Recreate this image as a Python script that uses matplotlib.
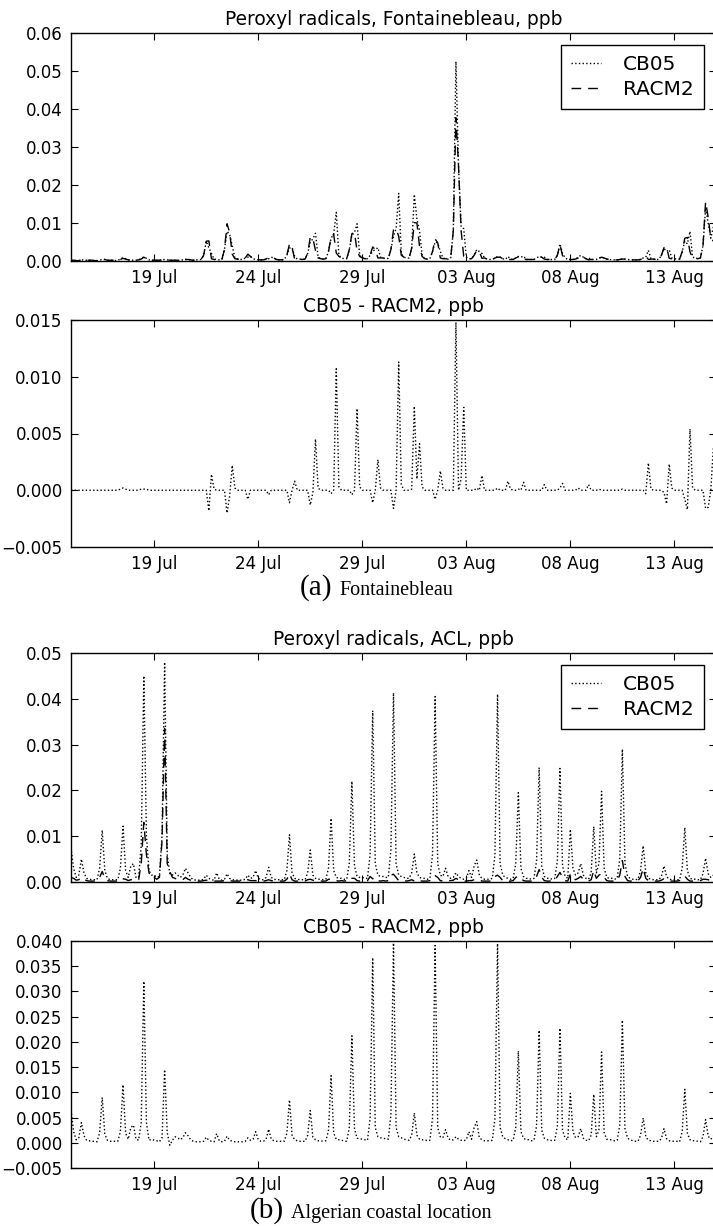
import numpy as np
import pandas as pd
import matplotlib
matplotlib.use('Agg')
import matplotlib.pyplot as plt
import matplotlib.dates as mdates

# 3-hourly values (00,03,06,09,12,15,18,21 h), one row per day, 15 Jul .. 14 Aug
start_date = '2009-07-15'

fb_cb05 = [
    .0002, .0002, .0001, .0001, .0003, .0003, .0002, .0002,
    .0002, .0001, .0001, .0002, .0004, .0004, .0002, .0002,
    .0002, .0001, .0002, .0005, .0009, .0006, .0003, .0002,
    .0002, .0002, .0003, .0006, .0011, .0007, .0003, .0002,
    .0002, .0002, .0002, .0003, .0004, .0003, .0002, .0002,
    .0002, .0002, .0002, .0003, .0004, .0004, .0003, .0002,
    .0003, .0003, .0004, .0015, .0052, .0035, .0020, .0005,
    .0004, .0003, .0004, .0030, .0078, .0070, .0040, .0008,
    .0005, .0004, .0004, .0008, .0010, .0012, .0006, .0004,
    .0003, .0003, .0003, .0005, .0006, .0010, .0008, .0004,
    .0003, .0003, .0004, .0015, .0034, .0036, .0012, .0005,
    .0005, .0004, .0005, .0020, .0050, .0058, .0073, .0010,
    .0006, .0005, .0006, .0025, .0060, .0070, .0128, .0015,
    .0008, .0006, .0006, .0030, .0068, .0075, .0098, .0015,
    .0008, .0006, .0006, .0015, .0026, .0030, .0035, .0010,
    .0008, .0006, .0007, .0030, .0066, .0085, .0178, .0020,
    .0010, .0008, .0008, .0035, .0175, .0110, .0080, .0015,
    .0006, .0005, .0006, .0025, .0050, .0048, .0025, .0008,
    .0006, .0005, .0008, .0080, .0525, .0250, .0090, .0085,
    .0010, .0006, .0006, .0015, .0030, .0025, .0020, .0008,
    .0005, .0004, .0004, .0008, .0012, .0010, .0006, .0004,
    .0012, .0005, .0004, .0008, .0012, .0010, .0013, .0004,
    .0004, .0004, .0004, .0008, .0012, .0010, .0010, .0004,
    .0004, .0004, .0004, .0015, .0045, .0020, .0008, .0004,
    .0004, .0004, .0005, .0010, .0015, .0010, .0006, .0008,
    .0004, .0004, .0004, .0008, .0010, .0008, .0005, .0004,
    .0003, .0003, .0003, .0004, .0006, .0005, .0004, .0003,
    .0003, .0003, .0003, .0004, .0008, .0010, .0028, .0006,
    .0005, .0004, .0004, .0015, .0033, .0025, .0030, .0008,
    .0006, .0005, .0005, .0025, .0052, .0045, .0078, .0010,
    .0008, .0006, .0008, .0040, .0140, .0100, .0060, .0090,
]

fb_racm2 = [
    .0002, .0002, .0001, .0001, .0003, .0003, .0002, .0002,
    .0002, .0001, .0001, .0002, .0004, .0004, .0002, .0002,
    .0002, .0001, .0002, .0004, .0007, .0005, .0003, .0002,
    .0002, .0002, .0003, .0005, .0010, .0006, .0003, .0002,
    .0002, .0002, .0002, .0003, .0004, .0003, .0002, .0002,
    .0002, .0002, .0002, .0003, .0004, .0004, .0003, .0002,
    .0003, .0003, .0004, .0015, .0052, .0053, .0006, .0004,
    .0004, .0003, .0004, .0030, .0098, .0075, .0018, .0006,
    .0005, .0004, .0004, .0008, .0018, .0012, .0006, .0004,
    .0003, .0003, .0003, .0005, .0010, .0010, .0008, .0004,
    .0003, .0003, .0004, .0015, .0045, .0036, .0004, .0005,
    .0005, .0004, .0005, .0020, .0063, .0060, .0028, .0008,
    .0006, .0005, .0006, .0025, .0063, .0070, .0021, .0012,
    .0008, .0006, .0006, .0030, .0072, .0075, .0026, .0012,
    .0008, .0006, .0006, .0015, .0037, .0030, .0008, .0008,
    .0008, .0006, .0007, .0030, .0082, .0085, .0065, .0015,
    .0010, .0008, .0008, .0034, .0101, .0100, .0039, .0012,
    .0006, .0005, .0006, .0025, .0058, .0048, .0008, .0006,
    .0006, .0005, .0008, .0080, .0377, .0250, .0080, .0012,
    .0010, .0006, .0006, .0015, .0028, .0025, .0007, .0008,
    .0005, .0004, .0004, .0008, .0010, .0010, .0006, .0004,
    .0004, .0004, .0004, .0008, .0011, .0010, .0006, .0004,
    .0004, .0004, .0004, .0008, .0012, .0010, .0005, .0004,
    .0004, .0004, .0004, .0015, .0043, .0014, .0008, .0004,
    .0004, .0004, .0005, .0008, .0015, .0010, .0006, .0003,
    .0004, .0004, .0004, .0007, .0010, .0008, .0005, .0004,
    .0003, .0003, .0003, .0004, .0005, .0005, .0004, .0003,
    .0003, .0003, .0003, .0004, .0008, .0013, .0004, .0005,
    .0005, .0004, .0004, .0015, .0035, .0037, .0007, .0006,
    .0006, .0005, .0005, .0025, .0060, .0062, .0024, .0008,
    .0008, .0006, .0008, .0040, .0156, .0115, .0060, .0052,
]

acl_cb05 = [
    .0075, .0030, .0010, .0015, .0050, .0020, .0008, .0006,
    .0005, .0005, .0005, .0030, .0113, .0025, .0008, .0005,
    .0005, .0005, .0005, .0030, .0122, .0025, .0010, .0035,
    .0040, .0010, .0010, .0080, .0450, .0100, .0025, .0015,
    .0015, .0010, .0012, .0100, .0480, .0060, .0018, .0015,
    .0020, .0015, .0010, .0015, .0030, .0020, .0010, .0005,
    .0004, .0004, .0004, .0006, .0015, .0008, .0005, .0004,
    .0020, .0006, .0004, .0006, .0018, .0008, .0005, .0004,
    .0004, .0004, .0004, .0006, .0015, .0008, .0010, .0025,
    .0008, .0005, .0005, .0010, .0032, .0010, .0006, .0005,
    .0005, .0005, .0005, .0025, .0103, .0020, .0008, .0006,
    .0005, .0005, .0005, .0020, .0070, .0015, .0008, .0006,
    .0006, .0005, .0006, .0030, .0139, .0025, .0010, .0008,
    .0008, .0006, .0006, .0040, .0220, .0035, .0012, .0010,
    .0010, .0008, .0008, .0060, .0374, .0040, .0015, .0012,
    .0012, .0010, .0010, .0070, .0413, .0040, .0015, .0012,
    .0010, .0008, .0008, .0020, .0061, .0020, .0010, .0008,
    .0008, .0006, .0008, .0060, .0405, .0040, .0015, .0012,
    .0030, .0012, .0008, .0010, .0020, .0012, .0008, .0006,
    .0008, .0025, .0010, .0035, .0048, .0015, .0008, .0006,
    .0006, .0006, .0008, .0060, .0410, .0040, .0015, .0010,
    .0008, .0006, .0008, .0040, .0195, .0030, .0012, .0008,
    .0008, .0006, .0008, .0045, .0250, .0035, .0012, .0008,
    .0008, .0006, .0008, .0045, .0248, .0035, .0012, .0008,
    .0115, .0030, .0015, .0020, .0040, .0015, .0008, .0006,
    .0020, .0121, .0020, .0040, .0198, .0030, .0010, .0008,
    .0008, .0006, .0008, .0050, .0290, .0040, .0012, .0008,
    .0006, .0005, .0006, .0025, .0079, .0020, .0008, .0006,
    .0005, .0005, .0005, .0012, .0035, .0012, .0006, .0005,
    .0005, .0005, .0005, .0030, .0119, .0025, .0008, .0006,
    .0006, .0005, .0005, .0018, .0052, .0018, .0010, .0015,
]

acl_racm2 = [
    .0010, .0008, .0004, .0005, .0010, .0006, .0003, .0002,
    .0002, .0002, .0003, .0010, .0023, .0008, .0003, .0002,
    .0002, .0002, .0002, .0008, .0007, .0006, .0003, .0005,
    .0005, .0003, .0005, .0040, .0130, .0060, .0020, .0008,
    .0010, .0006, .0010, .0090, .0335, .0040, .0023, .0010,
    .0008, .0005, .0004, .0005, .0010, .0006, .0004, .0002,
    .0002, .0002, .0002, .0003, .0004, .0003, .0002, .0002,
    .0002, .0002, .0002, .0003, .0005, .0003, .0002, .0002,
    .0002, .0002, .0002, .0003, .0005, .0003, .0003, .0003,
    .0002, .0002, .0002, .0003, .0005, .0003, .0002, .0002,
    .0002, .0002, .0002, .0006, .0018, .0005, .0002, .0002,
    .0002, .0002, .0002, .0005, .0006, .0004, .0002, .0002,
    .0002, .0002, .0002, .0006, .0006, .0006, .0003, .0002,
    .0003, .0002, .0003, .0010, .0008, .0008, .0003, .0002,
    .0003, .0002, .0003, .0012, .0007, .0010, .0003, .0002,
    .0003, .0002, .0003, .0015, .0017, .0010, .0003, .0002,
    .0003, .0002, .0003, .0005, .0002, .0005, .0003, .0002,
    .0002, .0002, .0003, .0012, .0014, .0010, .0003, .0002,
    .0004, .0003, .0003, .0004, .0008, .0005, .0003, .0002,
    .0002, .0003, .0003, .0005, .0006, .0005, .0002, .0002,
    .0002, .0002, .0003, .0012, .0015, .0010, .0003, .0002,
    .0002, .0002, .0003, .0010, .0013, .0008, .0003, .0002,
    .0002, .0002, .0003, .0012, .0027, .0010, .0003, .0002,
    .0002, .0002, .0003, .0012, .0021, .0010, .0003, .0002,
    .0017, .0008, .0005, .0008, .0012, .0006, .0003, .0002,
    .0005, .0025, .0008, .0015, .0018, .0010, .0003, .0002,
    .0002, .0002, .0003, .0015, .0047, .0012, .0003, .0002,
    .0002, .0002, .0003, .0010, .0030, .0008, .0003, .0002,
    .0002, .0002, .0002, .0004, .0007, .0004, .0002, .0002,
    .0002, .0002, .0003, .0008, .0013, .0006, .0002, .0002,
    .0002, .0002, .0003, .0006, .0006, .0005, .0003, .0002,
]

tick_dates = ['2009-07-19', '2009-07-24', '2009-07-29',
              '2009-08-03', '2009-08-08', '2009-08-13']

times = pd.date_range(start_date, periods=len(fb_cb05), freq='3h')
x0 = pd.Timestamp('2009-07-15')
x1 = pd.Timestamp('2009-08-15')

fb_c = np.array(fb_cb05)
fb_r = np.array(fb_racm2)
acl_c = np.array(acl_cb05)
acl_r = np.array(acl_racm2)

fig = plt.figure(figsize=(7.13, 12.26), dpi=100, facecolor='white')

left = 71 / 713.
width = 645 / 713.
H = 1226.


def make_ax(top_px, bottom_px):
    ax = fig.add_axes([left, 1 - bottom_px / H, width, (bottom_px - top_px) / H])
    ax.tick_params(direction='in', top=True, right=True, length=5, width=0.8,
                   labelsize=12, pad=6)
    for s in ax.spines.values():
        s.set_linewidth(1.0)
    ax.xaxis.set_major_locator(matplotlib.ticker.FixedLocator(
        mdates.date2num(pd.to_datetime(tick_dates))))
    ax.xaxis.set_major_formatter(mdates.DateFormatter('%d %b'))
    ax.set_xlim(x0, x1)
    return ax


def add_legend(ax):
    leg = ax.legend(loc='upper right', fontsize=14.5, handlelength=1.5,
                    handletextpad=1.1, labelspacing=0.3, borderpad=0.5,
                    borderaxespad=0.6, fancybox=False, framealpha=1)
    leg.get_frame().set_edgecolor('black')
    leg.get_frame().set_linewidth(1.0)


# (a) Fontainebleau
ax1 = make_ax(33, 261)
ax1.plot(times, fb_c, color='black', ls=':', lw=1, label='CB05')
ax1.plot(times, fb_r, color='black', ls='--', dashes=(7, 5), lw=1, label='RACM2')
ax1.set_ylim(0, 0.06)
ax1.set_title('Peroxyl radicals, Fontainebleau, ppb', fontsize=13.4)
add_legend(ax1)

ax2 = make_ax(320, 547)
ax2.plot(times, fb_c - fb_r, color='black', ls=':', lw=1)
ax2.set_ylim(-0.005, 0.015)
ax2.set_yticks([-0.005, 0.0, 0.005, 0.010, 0.015])
ax2.set_title('CB05 - RACM2, ppb', fontsize=13.4)

# (b) Algerian coastal location
ax3 = make_ax(653, 882)
ax3.plot(times, acl_c, color='black', ls=':', lw=1, label='CB05')
ax3.plot(times, acl_r, color='black', ls='--', dashes=(7, 5), lw=1, label='RACM2')
ax3.set_ylim(0, 0.05)
ax3.set_title('Peroxyl radicals, ACL, ppb', fontsize=13.4)
add_legend(ax3)

ax4 = make_ax(941, 1168)
ax4.plot(times, acl_c - acl_r, color='black', ls=':', lw=1)
ax4.set_ylim(-0.005, 0.04)
ax4.set_yticks(np.arange(-0.005, 0.0401, 0.005))
ax4.set_title('CB05 - RACM2, ppb', fontsize=13.4)

# captions
serif = 'Liberation Serif'
fig.text(332 / 713., 1 - 595 / H, '(a)', ha='right', va='baseline',
         family=serif, fontsize=21)
fig.text(339 / 713., 1 - 595 / H, 'Fontainebleau', ha='left', va='baseline',
         family=serif, fontsize=14.5)
fig.text(284 / 713., 1 - 1218 / H, '(b)', ha='right', va='baseline',
         family=serif, fontsize=21)
fig.text(291 / 713., 1 - 1218 / H, 'Algerian coastal location', ha='left',
         va='baseline', family=serif, fontsize=14.5)

fig.savefig('out.png', dpi=100, facecolor='white')
